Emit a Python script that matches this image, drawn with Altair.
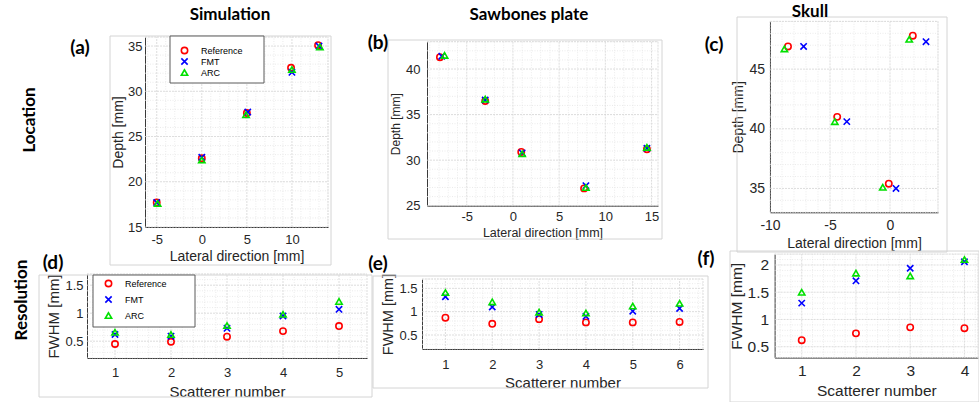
import altair as alt
import numpy as np
import pandas as pd

W, H = 979, 402
FONT = "Liberation Sans"
BOLD = "Lato"
TXT = "#262626"

SERIES = ["Reference", "FMT", "ARC"]
COLORS = ["#ff0000", "#0000ff", "#00e000"]
SHAPES = ["circle", "M-1,-1L1,1M-1,1L1,-1", "triangle-up"]

# (a) Simulation - location [mm]
SIM_REF_X = [-5.0, 0.0, 5.0, 9.9, 12.9]
SIM_REF_Y = [17.7, 22.6, 27.6, 32.6, 35.1]
SIM_FMT_X = [-5.0, 0.0, 5.1, 10.0, 13.0]
SIM_FMT_Y = [17.7, 22.7, 27.7, 32.1, 35.0]
SIM_ARC_X = [-4.9, 0.0, 4.9, 10.0, 13.1]
SIM_ARC_Y = [17.6, 22.4, 27.4, 32.4, 34.9]

# (b) Sawbones plate - location [mm]
SAW_REF_X = [-7.9, -3.0, 0.9, 7.7, 14.5]
SAW_REF_Y = [41.3, 36.5, 30.9, 26.9, 31.2]
SAW_FMT_X = [-7.7, -3.0, 1.0, 7.9, 14.5]
SAW_FMT_Y = [41.4, 36.6, 30.8, 27.2, 31.3]
SAW_ARC_X = [-7.4, -3.0, 1.0, 7.9, 14.5]
SAW_ARC_Y = [41.5, 36.7, 30.7, 27.0, 31.4]

# (c) Skull - location [mm]
SKULL_REF_X = [-8.5, -4.4, -0.1, 1.9]
SKULL_REF_Y = [46.9, 41.0, 35.4, 47.8]
SKULL_FMT_X = [-7.2, -3.6, 0.5, 3.0]
SKULL_FMT_Y = [46.9, 40.6, 35.0, 47.3]
SKULL_ARC_X = [-8.8, -4.6, -0.6, 1.6]
SKULL_ARC_Y = [46.7, 40.6, 35.1, 47.5]

# (d)-(f) Resolution: FWHM [mm] per scatterer
SIM_N = [1, 2, 3, 4, 5]
SIM_FWHM_REF = [0.45, 0.49, 0.58, 0.68, 0.77]
SIM_FWHM_FMT = [0.62, 0.59, 0.73, 0.95, 1.07]
SIM_FWHM_ARC = [0.66, 0.62, 0.78, 0.98, 1.21]

SAW_N = [1, 2, 3, 4, 5, 6]
SAW_FWHM_REF = [0.87, 0.74, 0.84, 0.77, 0.77, 0.78]
SAW_FWHM_FMT = [1.32, 1.10, 0.94, 0.90, 1.01, 1.07]
SAW_FWHM_ARC = [1.41, 1.21, 0.99, 0.97, 1.12, 1.18]

SKULL_N = [1, 2, 3, 4]
SKULL_FWHM_REF = [0.62, 0.745, 0.855, 0.84]
SKULL_FWHM_FMT = [1.30, 1.71, 1.94, 2.06]
SKULL_FWHM_ARC = [1.50, 1.85, 1.80, 2.10]


def make_df(xs_list, ys_list):
    rows = []
    for name, xs, ys in zip(SERIES, xs_list, ys_list):
        for x, y in zip(xs, ys):
            rows.append({"x": x, "y": y, "series": name})
    return pd.DataFrame(rows)


def tick_values(lo, hi, step):
    start = np.ceil(lo / step - 1e-9) * step
    vals = np.arange(start, hi + 1e-9, step)
    return [round(float(v), 4) for v in vals]


def is_major(v, step):
    return abs(v / step - round(v / step)) < 1e-3


def axis(orient, offset, dom, major, title, lab_fs, ttl_fs, lab_pad, ttl_pad):
    return alt.Axis(
        orient=orient,
        offset=offset,
        values=tick_values(dom[0], dom[1], major),
        labelExpr="toString(datum.value)",
        title=title,
        grid=False,
        ticks=False,
        labelFont=FONT,
        titleFont=FONT,
        labelFontSize=lab_fs,
        titleFontSize=ttl_fs,
        labelColor=TXT,
        titleColor=TXT,
        titleFontWeight="normal",
        labelPadding=lab_pad,
        titlePadding=ttl_pad,
        domainColor="#3a3a3a",
        domainWidth=1,
        labelOverlap=False,
        labelFlush=False,
    )


def panel(df, xdom, xr, ydom, yr, xminor, xmajor, yminor, ymajor, xtitle, ytitle,
          lab_fs, xt_fs, yt_fs, xlp, ylp, xtp, ytp, legend=None, size=40):
    xs = alt.Scale(domain=xdom, range=xr, nice=False, zero=False)
    ys = alt.Scale(domain=ydom, range=yr, nice=False, zero=False)
    xa = axis("bottom", yr[0] - H, xdom, xmajor, xtitle, lab_fs, xt_fs, xlp, xtp)
    ya = axis("left", -xr[0], ydom, ymajor, ytitle, lab_fs, yt_fs, ylp, ytp)

    xv = tick_values(xdom[0], xdom[1], xminor)
    yv = tick_values(ydom[0], ydom[1], yminor)
    v_minor = pd.DataFrame({"x": [v for v in xv if not is_major(v, xmajor)]})
    v_major = pd.DataFrame({"x": [v for v in xv if is_major(v, xmajor)] + [xdom[1]]})
    h_minor = pd.DataFrame({"y": [v for v in yv if not is_major(v, ymajor)]})
    h_major = pd.DataFrame({"y": [v for v in yv if is_major(v, ymajor)] + [ydom[1]]})

    layers = []
    for dfv, color, dash in [(v_minor, "#e6e6e6", [1, 1.5]), (v_major, "#d4d4d4", [2, 1])]:
        layers.append(alt.Chart(dfv).mark_rule(color=color, strokeDash=dash, strokeWidth=0.8).encode(
            x=alt.X("x:Q", scale=xs, axis=xa),
            y=alt.Y("y:Q", scale=ys, axis=ya), y2="y2:Q",
        ).transform_calculate(y=str(ydom[0]), y2=str(ydom[1])))
    for dfh, color, dash in [(h_minor, "#e6e6e6", [1, 1.5]), (h_major, "#d4d4d4", [2, 1])]:
        layers.append(alt.Chart(dfh).mark_rule(color=color, strokeDash=dash, strokeWidth=0.8).encode(
            y=alt.Y("y:Q", scale=ys, axis=ya),
            x=alt.X("x:Q", scale=xs, axis=xa), x2="x2:Q",
        ).transform_calculate(x=str(xdom[0]), x2=str(xdom[1])))

    pts = alt.Chart(df).mark_point(filled=False, strokeWidth=1.6, size=size, opacity=1).encode(
        x=alt.X("x:Q", scale=xs, axis=xa),
        y=alt.Y("y:Q", scale=ys, axis=ya),
        color=alt.Color("series:N", scale=alt.Scale(domain=SERIES, range=COLORS), legend=legend),
        shape=alt.Shape("series:N", scale=alt.Scale(domain=SERIES, range=SHAPES), legend=legend),
    )
    return alt.layer(*layers, pts)


def make_legend(x, y, row_pad):
    return alt.Legend(orient="none", legendX=x, legendY=y, title=None, labelFont=FONT,
                      labelFontSize=9, labelColor="#000", symbolSize=40, symbolStrokeWidth=1.6,
                      rowPadding=row_pad, labelOffset=12, padding=0)


LAT = "Lateral direction [mm]"
DEP = "Depth [mm]"
SCN = "Scatterer number"
FW = "FWHM [mm]"

pa = panel(make_df([SIM_REF_X, SIM_FMT_X, SIM_ARC_X], [SIM_REF_Y, SIM_FMT_Y, SIM_ARC_Y]),
           [-6.3, 14], [145, 328], [15, 36], [227, 37], 1, 5, 1, 5, LAT, DEP,
           13, 14, 14, 6, 3, 3, 2, legend=make_legend(180, 46, -2))
pb = panel(make_df([SAW_REF_X, SAW_FMT_X, SAW_ARC_X], [SAW_REF_Y, SAW_FMT_Y, SAW_ARC_Y]),
           [-9.3, 15.7], [427, 658], [25, 43], [205.7, 41.7], 1, 5, 1, 5, LAT, DEP,
           13, 12.5, 12, 4.5, 7, 3, 3)
pc = panel(make_df([SKULL_REF_X, SKULL_FMT_X, SKULL_ARC_X], [SKULL_REF_Y, SKULL_FMT_Y, SKULL_ARC_Y]),
           [-10, 4], [770, 938], [33, 49], [212.3, 21.4], 1, 5, 1, 5, LAT, DEP,
           14, 14, 14, 6, 5.5, 4, 3)
pd_ = panel(make_df([SIM_N] * 3, [SIM_FWHM_REF, SIM_FWHM_FMT, SIM_FWHM_ARC]),
            [0.5, 5.5], [87, 367], [0.2, 1.7], [358, 274], 0.2, 1, 0.1, 0.5, SCN, FW,
            13, 15, 15, 8, 4, 5, 3, legend=make_legend(104, 279, 3))
pe = panel(make_df([SAW_N] * 3, [SAW_FWHM_REF, SAW_FWHM_FMT, SAW_FWHM_ARC]),
           [0.5, 6.5], [422, 703], [0.2, 1.7], [349, 279], 0.2, 1, 0.1, 0.5, SCN, FW,
           13, 15, 14.5, 9, 5, 4, 3)
pf = panel(make_df([SKULL_N] * 3, [SKULL_FWHM_REF, SKULL_FWHM_FMT, SKULL_FWHM_ARC]),
           [0.5, 4.25], [774.6, 978], [0.3, 2.2], [357.6, 254.1], 0.2, 1, 0.1, 0.5, SCN, FW,
           15.5, 15.5, 15.5, 6, 6, 4, 3)

one = pd.DataFrame({"k": [0]})


def box(x0, x1, y0, y1, fill="white", stroke="#5a5a5a"):
    return alt.Chart(one).mark_rect(fill=fill, stroke=stroke, strokeWidth=1).encode(
        x=alt.value(x0), x2=alt.value(x1), y=alt.value(y0), y2=alt.value(y1))


def label(text, x, y, size, angle=0):
    return alt.Chart(one).mark_text(text=text, font=BOLD, fontSize=size, fontWeight="bold",
                                    angle=angle, align="center", baseline="middle",
                                    color="#000").encode(x=alt.value(x), y=alt.value(y))


FRAME = "#d4d4d4"
frames = [
    box(110, 331, 36, 265, fill=None, stroke=FRAME),
    box(388, 662, 40, 239, fill=None, stroke=FRAME),
    box(737, 947, 17, 252, fill=None, stroke=FRAME),
    box(39, 372, 275, 397, fill=None, stroke=FRAME),
    box(373, 708, 276, 388, fill=None, stroke=FRAME),
    box(730, 979, 251, 402, fill=None, stroke=FRAME),
]

decor = [
    box(170, 264, 36, 83),
    box(93, 195, 275, 327),
    label("Simulation", 230, 15, 17),
    label("Sawbones plate", 529, 15, 17),
    label("Skull", 810, 12, 17),
    label("(a)", 80, 48, 19),
    label("(b)", 378, 43, 19),
    label("(c)", 714, 45, 19),
    label("(d)", 53, 263, 19),
    label("(e)", 378, 264, 19),
    label("(f)", 706, 259, 19),
    label("Location", 30, 120, 17, 270),
    label("Resolution", 22, 300, 17, 270),
]

chart = alt.layer(*frames, pa, pb, pc, pd_, pe, pf, *decor).resolve_scale(
    x="independent", y="independent", color="independent", shape="independent"
).resolve_axis(x="independent", y="independent").resolve_legend(
    color="independent", shape="independent"
).properties(
    width=W, height=H, padding=0, autosize=alt.AutoSizeParams(type="none"),
    background="white"
).configure_view(stroke=None)

chart.save("out.html", embed_options={"renderer": "svg", "actions": False})
